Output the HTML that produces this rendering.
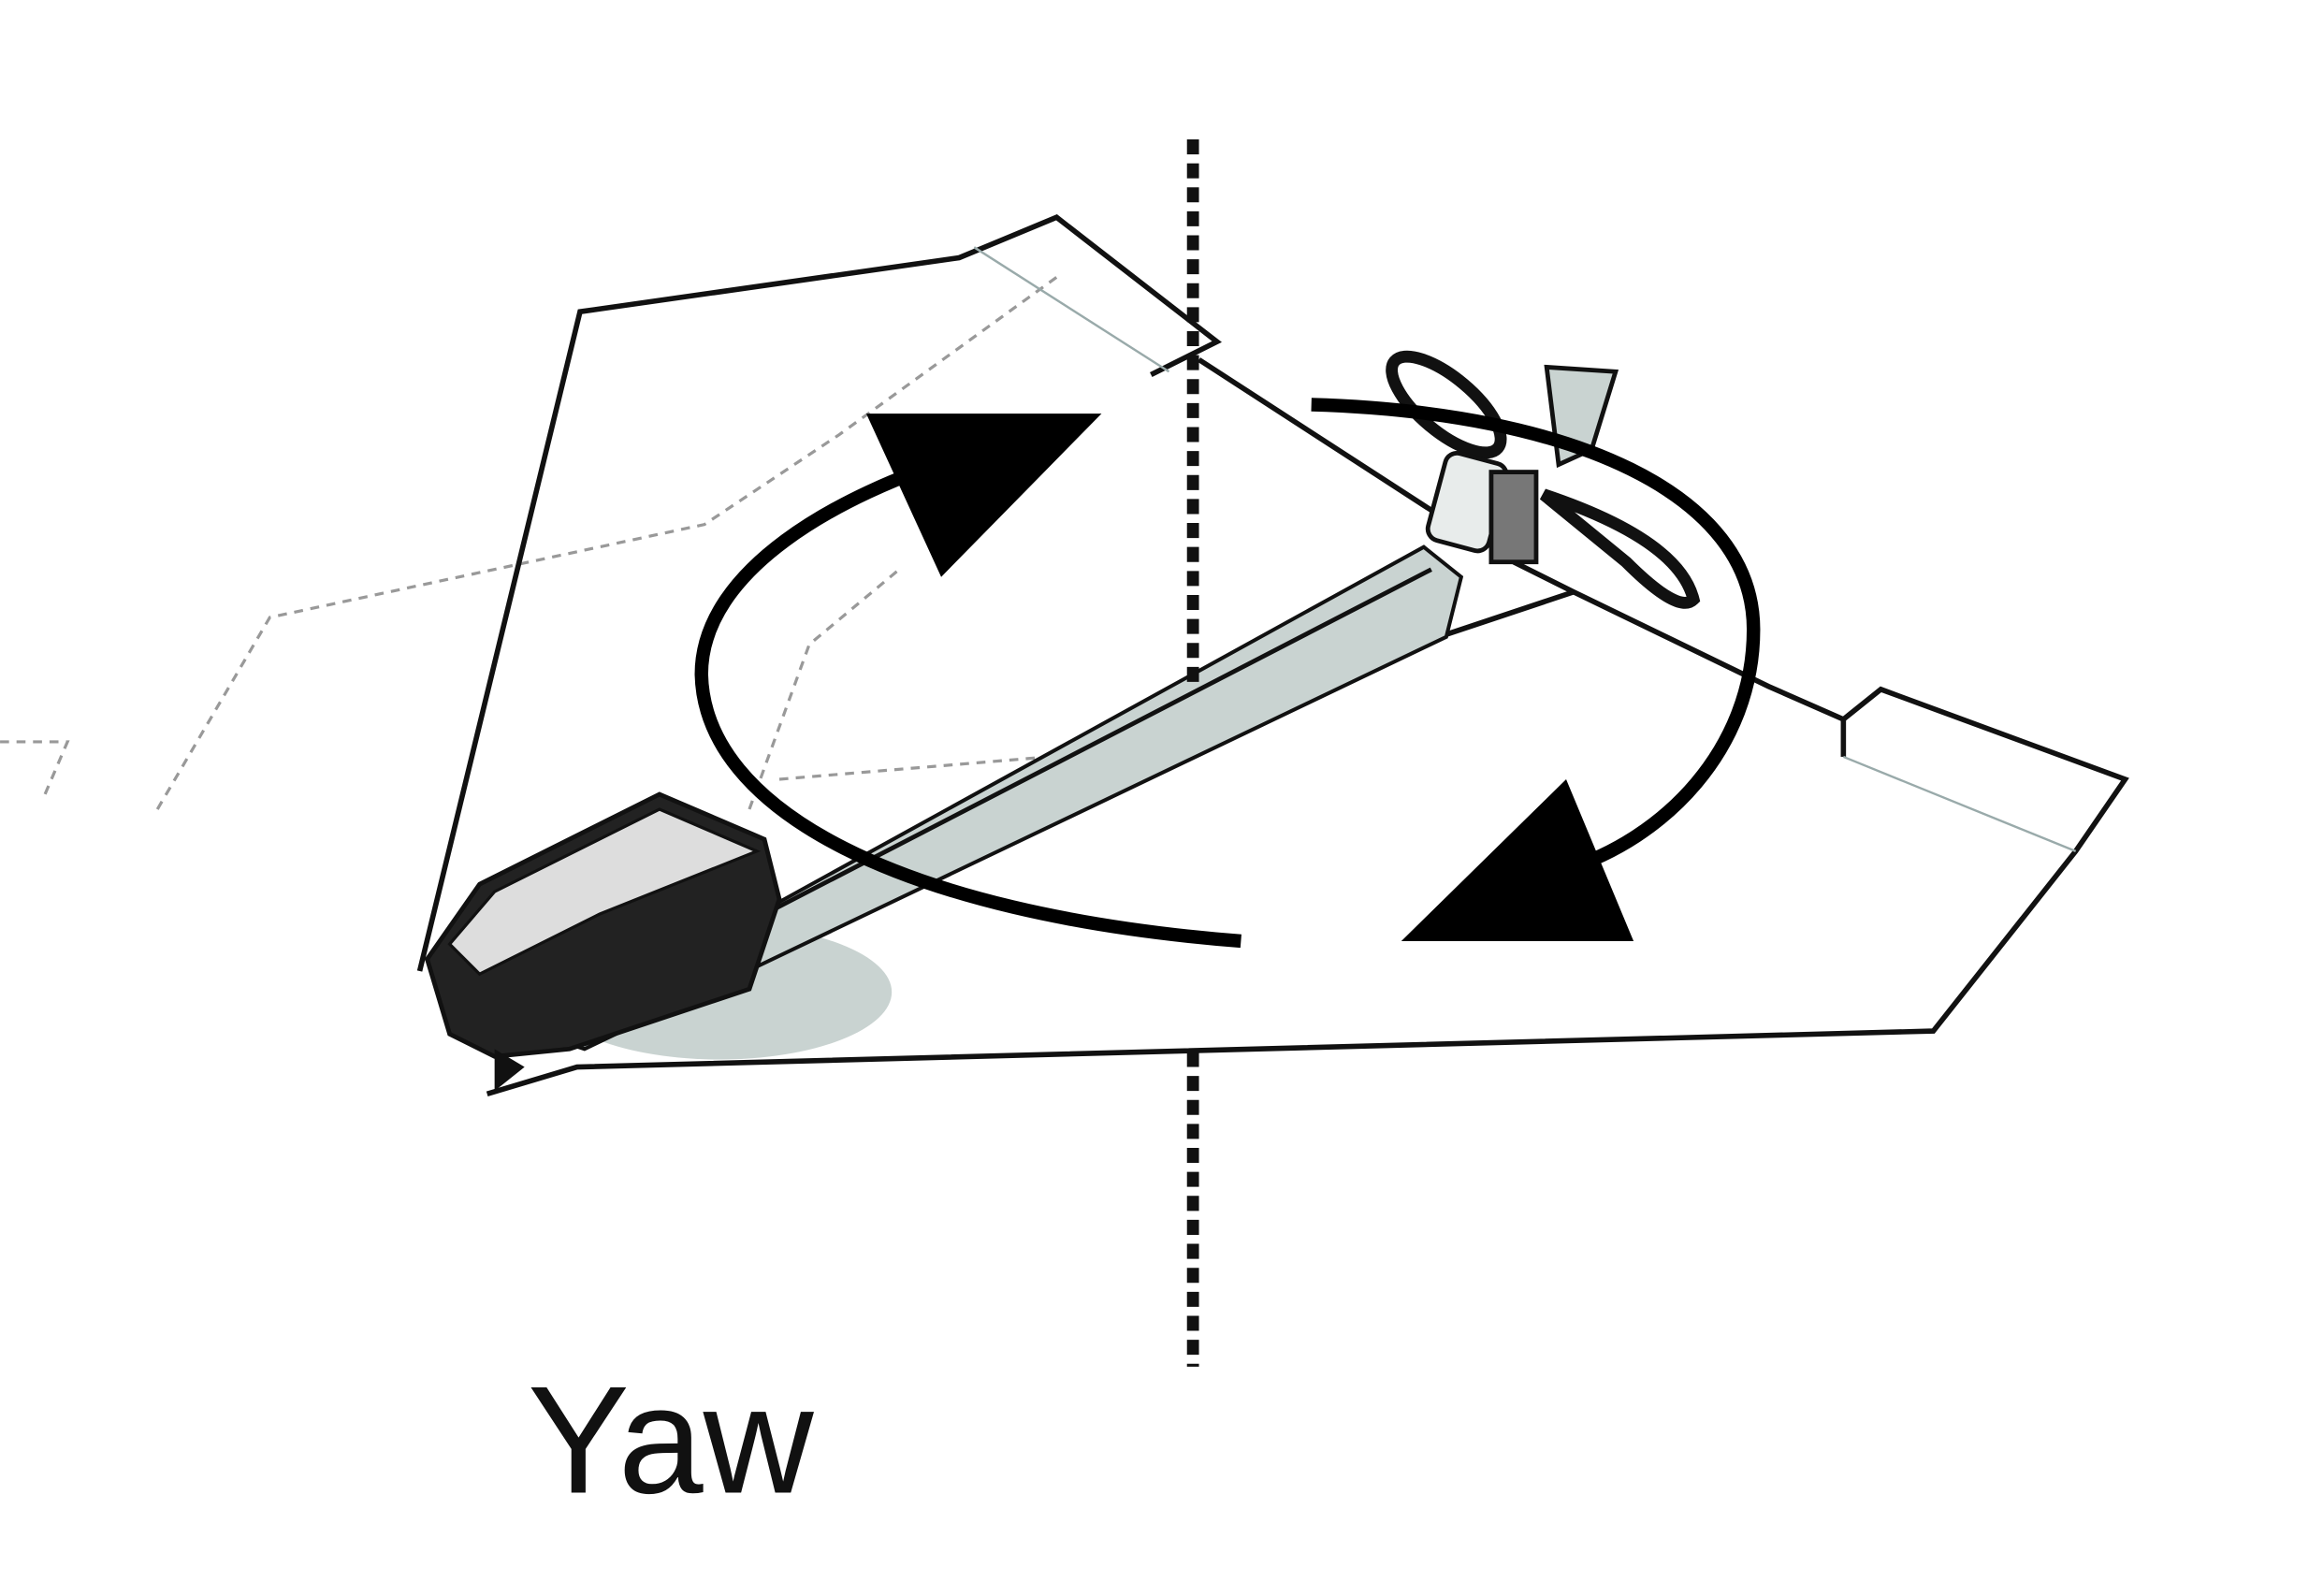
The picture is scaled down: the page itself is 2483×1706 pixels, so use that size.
<!DOCTYPE html>
<html><head><meta charset="utf-8"><style>
html,body{margin:0;padding:0;background:#fff;}
svg{display:block;}
</style></head><body>
<svg width="2483" height="1706" viewBox="0 0 1550 1065" xmlns="http://www.w3.org/2000/svg">
<rect width="1550" height="1065" fill="#fff"/>
<!-- faint dashed ghost lines -->
<g stroke="#999" stroke-width="2" stroke-dasharray="6 5" fill="none">
<path d="M105,540 L180,412 L470,350 L560,290 L705,185"/>
<path d="M0,495 L45,495 L30,530"/>
<path d="M520,520 L760,500"/>
<path d="M500,540 L540,430 L600,380"/>
</g>
<!-- shadow -->
<ellipse cx="480" cy="662" rx="115" ry="45" fill="#c9d3d1"/>
<!-- plane outline -->
<g fill="none" stroke="#111" stroke-width="3.5" stroke-linejoin="miter">
<path d="M280,648 L387,208 L640,172 L705,145 L812,228 L768,250"/>
<path d="M800,240 L962,345"/>
<path d="M1010,375 L1050,395 L1180,458 L1230,480 L1255,460 L1418,520 L1385,568 L1290,688 L385,712 L325,730"/>
<path d="M1230,480 L1230,505"/>
<path d="M960,425 L1050,395"/>
</g>
<path d="M650,165 L780,248" stroke="#9aa" stroke-width="1.5"/>
<path d="M1230,505 L1385,568" stroke="#9aa" stroke-width="1.5"/>
<!-- fuselage -->
<path d="M360,690 L950,365 L975,385 L965,425 L390,700 Z" fill="#c9d3d1" stroke="#111" stroke-width="2.5"/>
<path d="M365,685 L955,380" stroke="#111" stroke-width="3"/>
<!-- dashed vertical -->
<g stroke="#111" stroke-width="8" stroke-dasharray="10 6">
<line x1="796" y1="93" x2="796" y2="460"/>
<line x1="796" y1="702" x2="796" y2="912"/>
</g>
<!-- rudder & motor -->
<path d="M1032,245 L1078,248 L1062,300 L1040,310 Z" fill="#c9d3d1" stroke="#111" stroke-width="3"/>
<ellipse cx="965" cy="270" rx="45" ry="18" transform="rotate(40 965 270)" fill="#fff" stroke="#111" stroke-width="8"/>
<path d="M1030,330 Q1120,360 1130,400 Q1120,410 1085,375 Z" fill="#fff" stroke="#111" stroke-width="8"/>
<rect x="958" y="305" width="42" height="60" rx="8" fill="#e8eceb" stroke="#111" stroke-width="3" transform="rotate(15 979 335)"/>
<rect x="995" y="315" width="30" height="60" fill="#777" stroke="#111" stroke-width="3"/>
<!-- motor pod -->
<path d="M285,640 L320,590 L440,530 L510,560 L520,600 L500,660 L380,700 L330,705 L300,690 Z" fill="#222" stroke="#111" stroke-width="3"/>
<path d="M300,630 L330,595 L440,540 L505,568 L400,610 L320,650 Z" fill="#ddd" stroke="#111" stroke-width="2"/>
<path d="M330,700 L330,728 L350,712 Z" fill="#111"/>
<!-- arrows -->
<path d="M828,628 C600,610 470,540 468,450 C468,380 560,330 640,305" fill="none" stroke="#000" stroke-width="9"/>
<polygon points="578,276 735,276 628,385" fill="#000"/>
<path d="M875,270 C1050,275 1170,330 1170,420 C1170,500 1110,560 1045,580" fill="none" stroke="#000" stroke-width="9"/>
<polygon points="935,628 1090,628 1045,520" fill="#000"/>
<!-- label -->
<text x="352" y="996" font-family="'Liberation Sans','DejaVu Sans',sans-serif" font-size="102" fill="#111">Yaw</text>
</svg>
</body></html>
